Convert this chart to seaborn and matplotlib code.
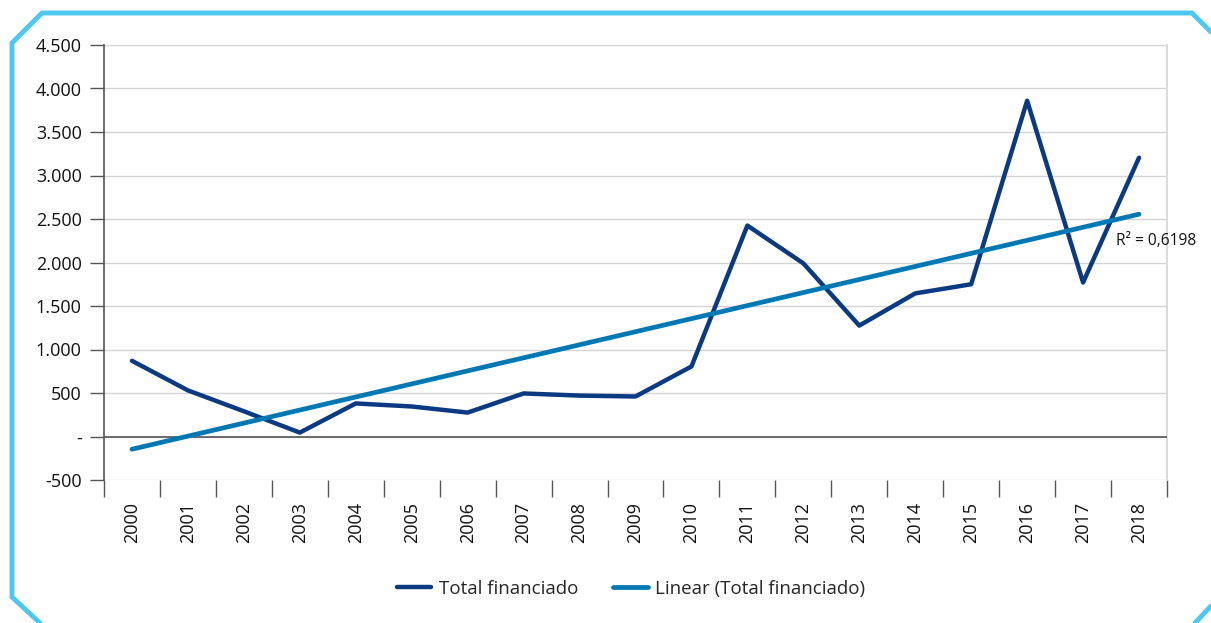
import numpy as np
import pandas as pd
import matplotlib
matplotlib.use("Agg")
import matplotlib.pyplot as plt
import seaborn as sns
from matplotlib.lines import Line2D

years = [str(y) for y in range(2000, 2019)]
total = [870, 530, 290, 45, 380, 345, 275, 495, 470, 460, 805, 2425, 1990, 1275, 1645, 1750, 3860, 1770, 3205]
y_ticks = [-500, 0, 500, 1000, 1500, 2000, 2500, 3000, 3500, 4000, 4500]
y_labels = ["-500", "-", "500", "1.000", "1.500", "2.000", "2.500", "3.000", "3.500", "4.000", "4.500"]
r2_text = "R² = 0,6198"
series_names = ["Total financiado", "Linear (Total financiado)"]

sns.set_theme(style="white")
plt.rcParams["font.family"] = ["Open Sans", "DejaVu Sans"]

pos = np.arange(len(years))
coef = np.polyfit(pos, total, 1)
trend = np.polyval(coef, pos)

df = pd.DataFrame({"pos": pos, "total": total, "trend": trend})

fig = plt.figure(figsize=(12.11, 6.23), dpi=100)
ax = fig.add_axes([104/1211, 1-480/623, (1167-104)/1211, (480-45)/623])

navy = "#0B3A82"
blue = "#0078B4"
txt = "#111111"
sns.lineplot(data=df, x="pos", y="total", ax=ax, color=navy, lw=3.2, zorder=4)
sns.lineplot(data=df, x="pos", y="trend", ax=ax, color=blue, lw=3.4, zorder=5)

ax.set_xlim(-0.5, len(years) - 0.5)
ax.set_ylim(-500, 4500)
ax.set_yticks(y_ticks)
ax.set_yticklabels(y_labels, fontsize=13, color=txt)
ax.yaxis.grid(True, color="#D4D4D4", lw=1)
ax.axhline(0, color="#555555", lw=1.2, zorder=3)
ax.set_xticks(pos)
ax.set_xticklabels(years, rotation=90, fontsize=13, color=txt)
ax.tick_params(axis="x", length=0, pad=16)
ax.tick_params(axis="y", length=10, width=1, color="#555555", pad=6, left=True)
# category boundary ticks
ax.set_xticks(np.arange(-0.5, len(years)), minor=True)
ax.tick_params(axis="x", which="minor", length=12.5, width=1, color="#555555", bottom=True)
ax.set_xlabel("")
ax.set_ylabel("")
for s in ["top", "bottom"]:
    ax.spines[s].set_visible(False)
ax.spines["left"].set_color("#555555")
ax.spines["left"].set_linewidth(1.2)
ax.spines["right"].set_color("#D4D4D4")
ax.spines["right"].set_linewidth(1.2)

ax.text(len(years) - 1.42, 2245, r2_text, fontsize=11.2, color=txt, ha="left", va="center", zorder=6)

handles = [Line2D([], [], color=navy, lw=3.2, solid_capstyle="round"),
           Line2D([], [], color=blue, lw=3.4, solid_capstyle="round")]
fig.legend(handles, series_names, loc="center", bbox_to_anchor=(0.521, 1-589/623), ncol=2,
           frameon=False, fontsize=13.5, handlelength=1.85, columnspacing=1.85, handletextpad=0.4)

# frame with chamfered corners (pixel coords -> figure fraction)
border = "#4CC9F0"
def px(x, y):
    return x/1211, 1-y/623
def seg(pts):
    xs, ys = zip(*[px(*p) for p in pts])
    fig.add_artist(Line2D(xs, ys, color=border, lw=3.5, solid_joinstyle="miter"))
seg([(40, 623), (12, 597), (12, 43), (42, 13), (1192, 13), (1211, 32)])
seg([(1211, 606), (1195, 623)])

fig.savefig("out.png", dpi=100)
